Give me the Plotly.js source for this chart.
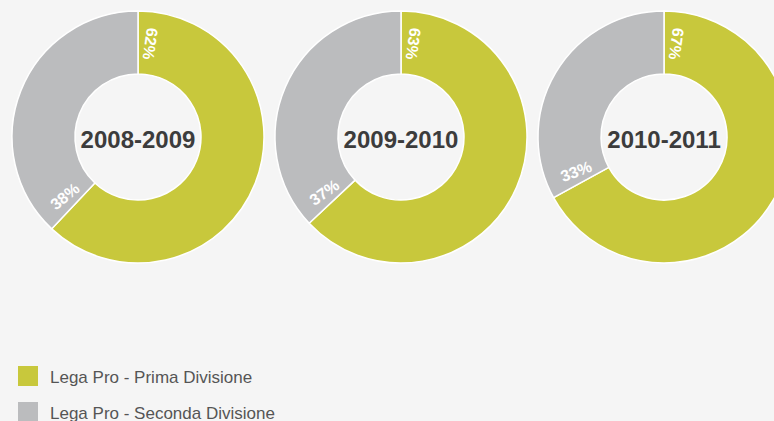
<!DOCTYPE html>
<html>
<head>
<meta charset="utf-8">
<script src="https://cdn.plot.ly/plotly-3.0.1.min.js"></script>
<style>
  html, body { margin: 0; padding: 0; background: #f5f5f5; overflow: hidden; }
  #chart { width: 800px; height: 421px; }
</style>
</head>
<body>
<div id="chart"></div>
<script>
// ---- data ----
const seasons = ['2008-2009', '2009-2010', '2010-2011'];
const categories = ['Lega Pro - Prima Divisione', 'Lega Pro - Seconda Divisione'];
const primaDivisione = [62, 63, 67];
const secondaDivisione = [38, 37, 33];
const sliceColors = ['#c8c83c', '#bbbcbe'];

// ---- geometry ----
const W = 800, H = 421;
const centersX = [138, 401, 664];
const centerY = 137;
const R = 126;
const HOLE = 0.5;

const px2x = p => p / W;
const px2y = p => 1 - p / H;

const traces = [];
const annotations = [];
const shapes = [];

seasons.forEach((season, i) => {
  const vals = [primaDivisione[i], secondaDivisione[i]];
  const cx = centersX[i];
  traces.push({
    type: 'pie',
    labels: categories,
    values: vals,
    sort: false,
    direction: 'clockwise',
    rotation: 0,
    hole: HOLE,
    textinfo: 'none',
    hoverinfo: 'label+percent',
    showlegend: false,
    marker: { colors: sliceColors, line: { color: '#ffffff', width: 1.5 } },
    domain: {
      x: [px2x(cx - R), px2x(cx + R)],
      y: [px2y(centerY + R), px2y(centerY - R)]
    },
    title: {
      text: '<b>' + season + '</b>',
      position: 'middle center',
      font: { family: 'Liberation Sans, Arial, sans-serif', size: 24, color: '#3c3c3c' }
    }
  });

  // percent labels placed radially just after each slice's start
  const total = vals.reduce((a, b) => a + b, 0);
  const rL = R * (1 + HOLE) / 2;
  const delta = Math.asin(12.5 / rL) * 180 / Math.PI;
  let start = 0;
  vals.forEach(v => {
    const theta = start + delta;
    const t = theta * Math.PI / 180;
    const x = cx + rL * Math.sin(t);
    const y = centerY - rL * Math.cos(t);
    let ang = theta + 90;
    while (ang > 180) ang -= 360;
    while (ang <= -180) ang += 360;
    annotations.push({
      xref: 'paper', yref: 'paper',
      x: px2x(x), y: px2y(y),
      xanchor: 'center', yanchor: 'middle',
      showarrow: false,
      text: '<b>' + Math.round(v / total * 100) + '%</b>',
      textangle: ang,
      font: { family: 'Liberation Sans, Arial, sans-serif', size: 16, color: '#ffffff' }
    });
    start += v / total * 360;
  });
});

// ---- legend ----
categories.forEach((cat, k) => {
  const top = 366 + k * 36;
  shapes.push({
    type: 'rect', xref: 'paper', yref: 'paper',
    x0: px2x(18), x1: px2x(38), y0: px2y(top + 20), y1: px2y(top),
    fillcolor: sliceColors[k], line: { width: 0 }
  });
  annotations.push({
    xref: 'paper', yref: 'paper',
    x: px2x(48), y: px2y(top + 11),
    xanchor: 'left', yanchor: 'middle',
    showarrow: false,
    text: cat,
    font: { family: 'Liberation Sans, Arial, sans-serif', size: 17, color: '#555555' }
  });
});

const layout = {
  width: W, height: H,
  margin: { l: 0, r: 0, t: 0, b: 0 },
  paper_bgcolor: '#f5f5f5',
  plot_bgcolor: '#f5f5f5',
  showlegend: false,
  annotations: annotations,
  shapes: shapes
};

Plotly.newPlot('chart', traces, layout, { displayModeBar: false, staticPlot: true });
</script>
</body>
</html>
